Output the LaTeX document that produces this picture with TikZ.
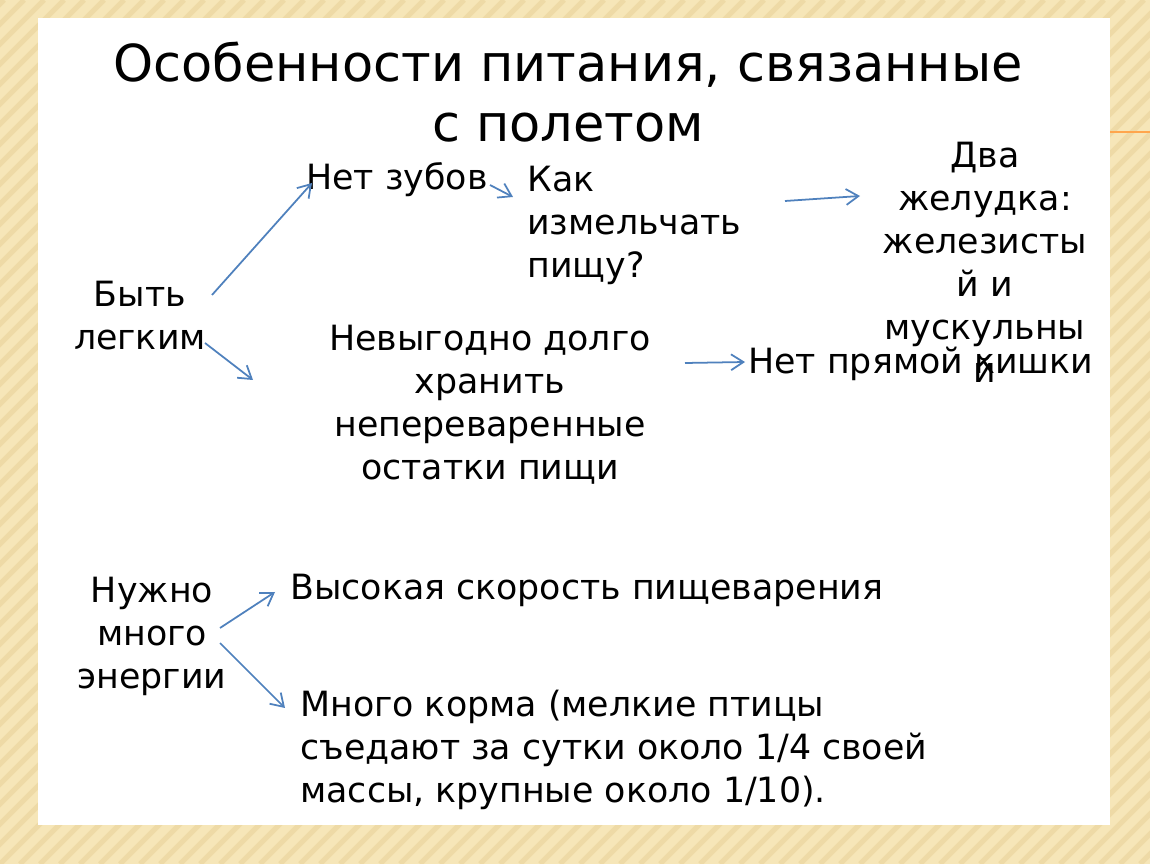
\documentclass[tikz,border=0pt]{standalone}
\usepackage{fontspec}
\setmainfont{DejaVu Sans}
\usetikzlibrary{arrows.meta}
\definecolor{slidebg}{RGB}{246,230,184}
\definecolor{stripe}{RGB}{238,218,166}
\definecolor{arrowblue}{RGB}{79,129,189}
\tikzset{
  txt/.style={font=\fontsize{19.8}{24.5}\selectfont, inner sep=0pt},
  arr/.style={draw=arrowblue, line width=1pt, -{Straight Barb[length=7pt,width=9pt]}}
}
\begin{document}
\begin{tikzpicture}[x=0.02cm, y=-0.02cm]
  \useasboundingbox (0,0) rectangle (1150,864);
  \begin{scope}
    \clip (0,0) rectangle (1150,864);
    \fill[slidebg] (0,0) rectangle (1150,864);
    \foreach \i in {-900,-880,...,1150}
      \draw[stripe, line width=3pt] (\i,864) -- (\i+864,0);
  \end{scope}
  \fill[white] (38,18) rectangle (1110,825);
  \draw[orange!70, line width=0.8pt] (1110,132) -- (1150,132);

  % Titel
  \node[txt, font=\fontsize{29}{34}\selectfont, align=center] (title) at (568,92)
    {Особенности питания, связанные\\с полетом};

  % Texte
  \node[txt, align=center] (light) at (140,316) {Быть\\легким};
  \node[txt] (teeth) at (397,180) {Нет зубов};
  \node[txt, align=left, anchor=north west] (grind) at (527,166) {Как\\измельчать\\пищу?};
  \node[txt, align=center] (stomach) at (985,262) {Два\\желудка:\\железисты\\й и\\мускульны\\й};
  \node[txt, align=center] (store) at (490,405) {Невыгодно долго\\хранить\\непереваренные\\остатки пищи};
  \node[txt, anchor=west] (rectum) at (748,364) {Нет прямой кишки};
  \node[txt, align=center] (energy) at (152,636) {Нужно\\много\\энергии};
  \node[txt, anchor=west] (speed) at (290,590) {Высокая скорость пищеварения};
  \node[txt, align=left, anchor=north west] (food) at (300,690)
    {Много корма (мелкие птицы\\съедают за сутки около 1/4 своей\\массы, крупные около 1/10).};

  % Pfeile
  \coordinate (a1) at (212,295); \coordinate (b1) at (312,183);
  \coordinate (a2) at (205,343); \coordinate (b2) at (253,380);
  \coordinate (a3) at (490,185); \coordinate (b3) at (513,197);
  \coordinate (a4) at (785,201); \coordinate (b4) at (860,196);
  \coordinate (a5) at (685,363); \coordinate (b5) at (745,362);
  \coordinate (a6) at (220,628); \coordinate (b6) at (275,592);
  \coordinate (a7) at (220,643); \coordinate (b7) at (285,708);
  \foreach \s/\t in {a1/b1,a2/b2,a3/b3,a4/b4,a5/b5,a6/b6,a7/b7}
    \draw[arr] (\s) -- (\t);
\end{tikzpicture}
\end{document}
